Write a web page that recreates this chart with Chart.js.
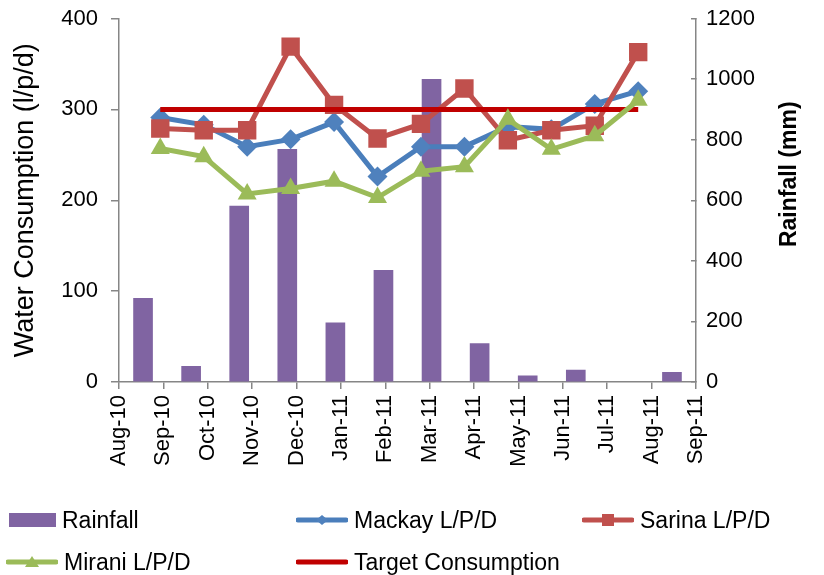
<!DOCTYPE html>
<html>
<head>
<meta charset="utf-8">
<script src="https://cdn.jsdelivr.net/npm/chart.js@4/dist/chart.umd.min.js"></script>
<style>
html,body{margin:0;padding:0;background:#fff;}
#wrap{position:relative;width:824px;height:575px;overflow:hidden;}
#c{position:absolute;left:0;top:0;}
#legend{position:absolute;left:0;top:0;width:824px;height:575px;pointer-events:none;
  font-family:"Liberation Sans",Arial,sans-serif;font-size:23px;color:#000;}
.item{position:absolute;display:flex;align-items:center;white-space:nowrap;height:30px;margin-top:-15px;}
.item svg,.item .box{margin-right:6px;flex:none;}
</style>
</head>
<body>
<div id="wrap">
  <canvas id="c" width="824" height="575"></canvas>
  <div id="legend"></div>
</div>
<script>
// ---- data ----
const tickLabels = ['Aug-10','Sep-10','Oct-10','Nov-10','Dec-10','Jan-11','Feb-11','Mar-11','Apr-11','May-11','Jun-11','Jul-11','Aug-11','Sep-11'];
const rainMonths = ['Aug-10','Sep-10','Oct-10','Nov-10','Dec-10','Jan-11','Feb-11','Mar-11','Apr-11','May-11','Jun-11','Jul-11'];
const usageMonths = ['Sep-10','Oct-10','Nov-10','Dec-10','Jan-11','Feb-11','Mar-11','Apr-11','May-11','Jun-11','Jul-11','Aug-11'];
const rainfall = [276, 52, 581, 768, 195, 369, 999, 127, 20, 39, null, 32];
const mackay = [291, 283, 259, 267, 286, 226, 259, 259, 281, 278, 306, 320];
const sarina = [279, 277, 277, 369, 305, 268, 284, 323, 266, 277, 282, 363];
const mirani = [257, 248, 207, 213, 221, 203, 232, 237, 289, 256, 271, 310];
const target = [300, 300, 300, 300, 300, 300, 300, 300, 300, 300, 300, 300];

const FONT = '"Liberation Sans", Arial, sans-serif';
const AXIS = '#868686';

function pts(arr){ return arr.map((v,i)=>({x:i, y:v})); }
function noPad(s){ s.paddingTop = 0; s.paddingBottom = 0; s.paddingLeft = 0; s.paddingRight = 0; }

const rightTitle = {
  id:'rightTitle',
  afterDraw(chart){
    const s = chart.scales.y1;
    const t = chart.options.scales.y1.title;
    const ctx = chart.ctx;
    ctx.save();
    ctx.translate(790, (s.top + s.bottom)/2 - 26);
    ctx.rotate(-Math.PI/2);
    ctx.font = 'bold 23px ' + FONT;
    ctx.fillStyle = '#000';
    ctx.textAlign = 'center';
    ctx.textBaseline = 'middle';
    ctx.fillText(t.text, 0, 0);
    ctx.restore();
  }
};

const chart = new Chart(document.getElementById('c'), {
  data: {
    datasets: [
      { type:'line', label:'Mirani L/P/D', data:pts(mirani), xAxisID:'xLine', yAxisID:'y',
        borderColor:'#9BBB59', backgroundColor:'#9BBB59', borderWidth:5,
        pointStyle:'triangle', pointRadius:11, pointBorderWidth:0, pointBackgroundColor:'#9BBB59', order:1, legendSlot:3 },
      { type:'line', label:'Target Consumption', data:pts(target), xAxisID:'xLine', yAxisID:'y',
        borderColor:'#C00000', backgroundColor:'#C00000', borderWidth:5, pointRadius:0, order:2, legendSlot:4 },
      { type:'line', label:'Sarina L/P/D', data:pts(sarina), xAxisID:'xLine', yAxisID:'y',
        borderColor:'#C0504D', backgroundColor:'#C0504D', borderWidth:5,
        pointStyle:'rect', pointRadius:13, pointBorderWidth:0, pointBackgroundColor:'#C0504D', order:3, legendSlot:2 },
      { type:'line', label:'Mackay L/P/D', data:pts(mackay), xAxisID:'xLine', yAxisID:'y',
        borderColor:'#4A7EBB', backgroundColor:'#4F81BD', borderWidth:5,
        pointStyle:'rectRot', pointRadius:10, pointBorderWidth:0, pointBackgroundColor:'#4F81BD', order:4, legendSlot:1 },
      { type:'bar', label:'Rainfall', data:rainfall, xAxisID:'xBar', yAxisID:'y1',
        backgroundColor:'#8064A2', borderWidth:0, grouped:false, barThickness:19, order:10, legendSlot:0 }
    ]
  },
  options: {
    responsive:false, animation:false, devicePixelRatio:1,
    layout:{ padding:{ top:18.5, left:0, right:0, bottom:0 } },
    plugins:{ legend:{display:false}, tooltip:{enabled:false} },
    scales: {
      x: {
        type:'linear', position:'bottom', min:0, max:tickLabels.length-1,
        afterBuildTicks(s){ s.ticks = tickLabels.map((_,i)=>({value:i})); },
        afterFit(s){ s.height = 575 - 382; noPad(s); },
        ticks:{ autoSkip:false, maxRotation:90, minRotation:90, padding:6, color:'#000',
          font:{family:FONT, size:22}, callback:(v)=>tickLabels[v] },
        grid:{ display:true, drawOnChartArea:false, drawTicks:true, tickLength:7, color:AXIS, lineWidth:1.5 },
        border:{ display:true, color:AXIS, width:1.5 }
      },
      xBar: { type:'category', labels:rainMonths, offset:true, display:false, grid:{display:false}, afterFit:noPad },
      xLine: { type:'linear', display:false, min:-0.95, max:12.33, afterFit:noPad },
      y: {
        type:'linear', position:'left', min:0, max:400,
        afterFit(s){ s.width = 119; noPad(s); },
        ticks:{ stepSize:100, padding:13, color:'#000', font:{family:FONT, size:22}, callback:(v)=>String(v) },
        grid:{ display:true, drawOnChartArea:false, tickLength:8, color:AXIS, lineWidth:1.5 },
        border:{ display:true, color:AXIS, width:1.5 },
        title:{ display:true, text:'Water Consumption (l/p/d)', color:'#000', padding:{top:9,bottom:0},
          font:{family:FONT, size:27} }
      },
      y1: {
        type:'linear', position:'right', min:0, max:1200,
        afterFit(s){ s.width = 824 - 696; noPad(s); },
        ticks:{ stepSize:200, padding:15, color:'#000', font:{family:FONT, size:22}, callback:(v)=>String(v) },
        grid:{ display:true, drawOnChartArea:false, tickLength:-5, color:AXIS, lineWidth:1.5 },
        border:{ display:true, color:AXIS, width:1.5 },
        title:{ display:false, text:'Rainfall (mm)' }
      }
    }
  },
  plugins:[rightTitle]
});

// ---- HTML legend built from the chart datasets ----
const legendSlots = [[9,520],[296,520],[582,520],[6,562],[296,562]];
const legendEl = document.getElementById('legend');
function markerSvg(ds){
  const c = ds.borderColor, m = ds.pointBackgroundColor || c;
  let mk = '';
  if (ds.pointStyle === 'rectRot') mk = `<polygon points="20,8 26,3 32,8 26,13" fill="${m}"/>`;
  else if (ds.pointStyle === 'rect') mk = `<rect x="20" y="2" width="12" height="12" fill="${m}"/>`;
  else if (ds.pointStyle === 'triangle') mk = `<polygon points="26,2 33,13 19,13" fill="${m}"/>`;
  return `<svg width="52" height="16" viewBox="0 0 52 16"><line x1="2" y1="8" x2="50" y2="8" stroke="${c}" stroke-width="5" stroke-linecap="round"/>${mk}</svg>`;
}
chart.data.datasets.slice().sort((a,b)=>a.legendSlot-b.legendSlot).forEach(ds=>{
  const [lx, ly] = legendSlots[ds.legendSlot];
  const d = document.createElement('div');
  d.className = 'item';
  d.style.left = lx + 'px';
  d.style.top = ly + 'px';
  const sample = ds.type === 'bar'
    ? `<div class="box" style="width:47px;height:14px;background:${ds.backgroundColor}"></div>`
    : markerSvg(ds);
  d.innerHTML = sample + `<span>${ds.label}</span>`;
  legendEl.appendChild(d);
});
</script>
</body>
</html>
